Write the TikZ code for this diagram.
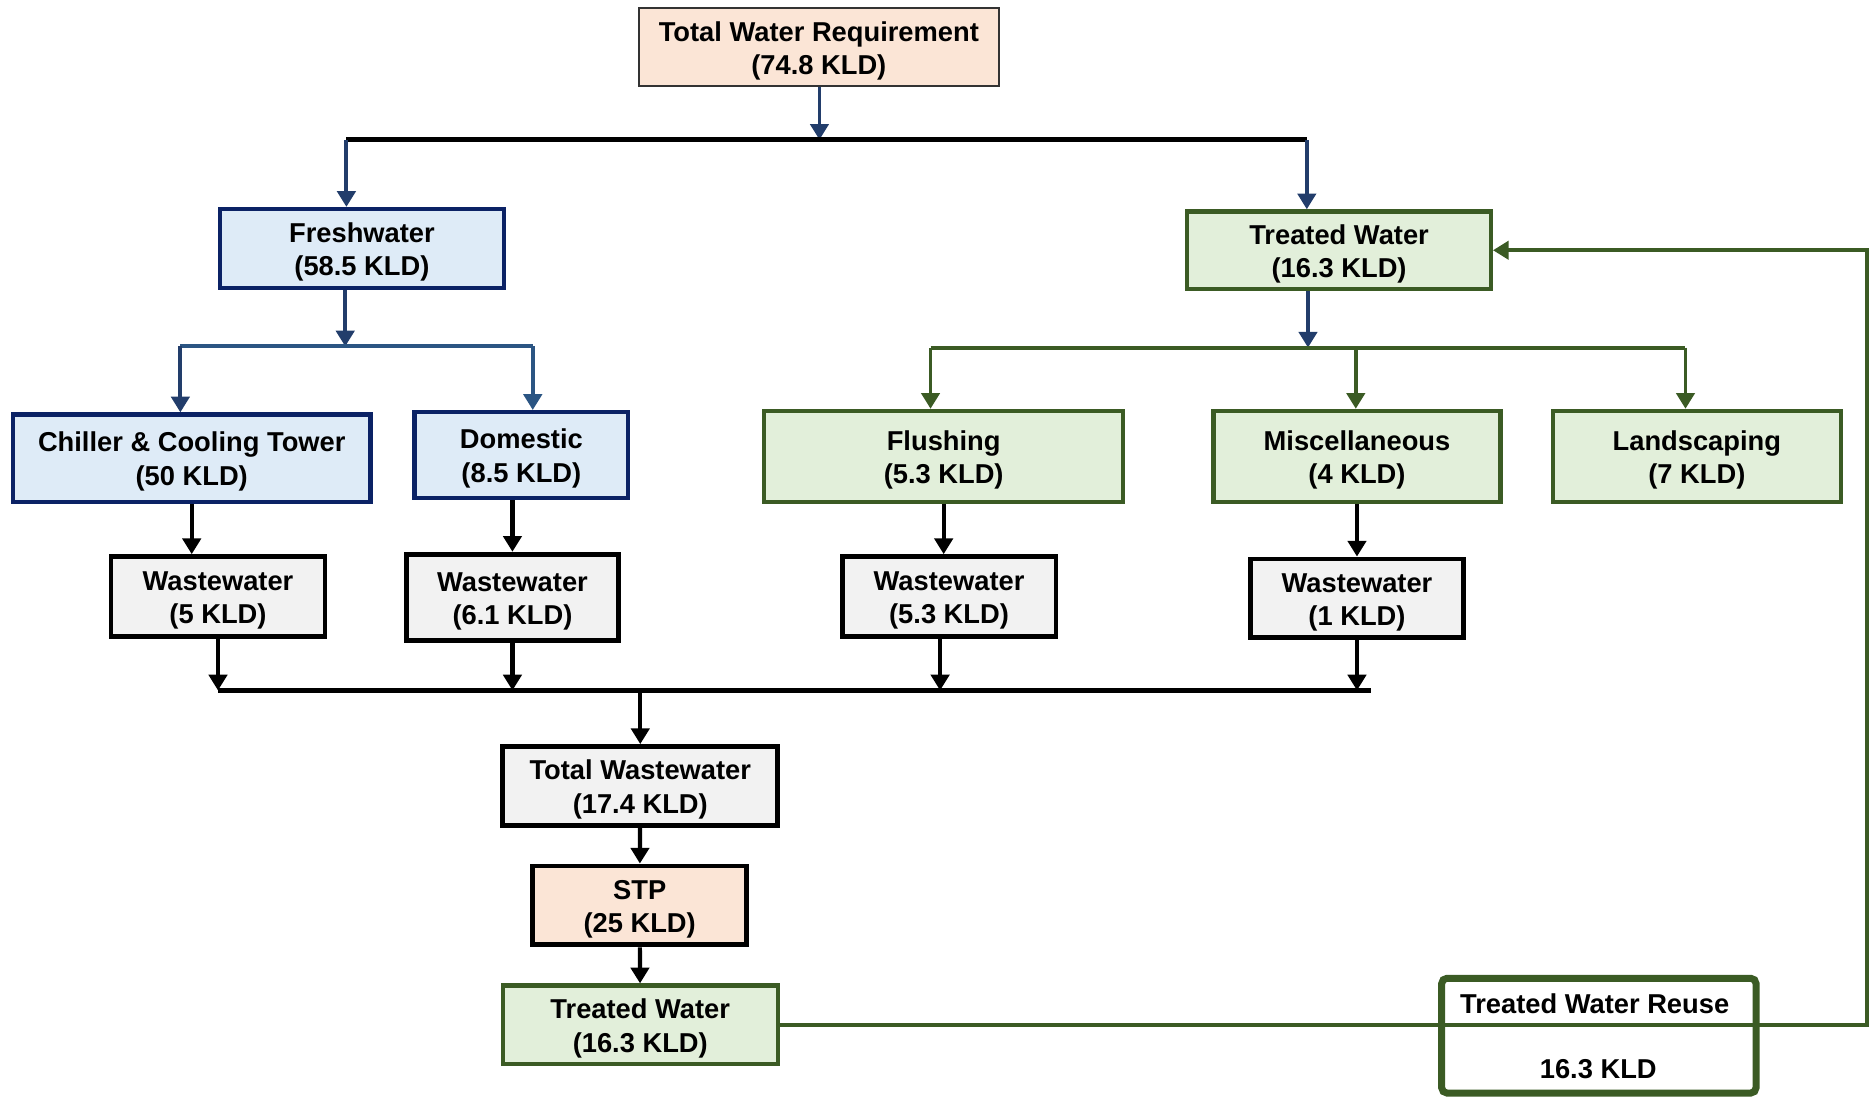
\documentclass[tikz,border=0pt]{standalone}
\usepackage{fontspec}
\setmainfont{Liberation Sans}
\usetikzlibrary{arrows.meta,positioning}

\definecolor{peach}{HTML}{FBE5D6}
\definecolor{paleblue}{HTML}{DEEBF7}
\definecolor{navy}{HTML}{0B2265}
\definecolor{flowblue}{HTML}{223D6B}
\definecolor{branchblue}{HTML}{2B5583}
\definecolor{palegreen}{HTML}{E2EFDA}
\definecolor{darkgreen}{HTML}{3B5B24}
\definecolor{palegray}{HTML}{F2F2F2}

\tikzset{
  box/.style={draw,align=center,inner sep=0pt,text height=17.1pt,font=\bfseries\fontsize{7.8}{9.5}\selectfont},
  reqbox/.style={box,fill=peach,draw=black!80,line width=0.5pt},
  freshbox/.style={box,fill=paleblue,draw=navy,line width=1.2pt},
  treatbox/.style={box,fill=palegreen,draw=darkgreen,line width=1.2pt},
  wastebox/.style={box,fill=palegray,draw=black,line width=1.4pt},
  stpbox/.style={box,fill=peach,draw=black,line width=1.4pt},
  reusetext/.style={inner sep=0pt,font=\bfseries\fontsize{7.8}{9.5}\selectfont},
  blueflow/.style={->,draw=flowblue,line width=1.1pt},
  greenflow/.style={->,draw=darkgreen,line width=1.1pt},
  blackflow/.style={->,draw=black,line width=1.2pt}
}

\begin{document}
\begin{tikzpicture}[x=0.012cm,y=-0.012cm,>={Triangle[length=4.5pt,width=5.2pt]}]
            \useasboundingbox (0,0) rectangle (1568,918);

            % demand side
            \node[reqbox,minimum width=3.612cm,minimum height=0.78cm] (req) at (685.5,39.5) {Total Water Requirement\\(74.8 KLD)};
            \node[freshbox,minimum width=2.856cm,minimum height=0.792cm] (fresh) at (303,208) {Freshwater\\(58.5 KLD)};
            \node[treatbox,minimum width=3.048cm,minimum height=0.78cm] (treat) at (1121,209.5) {Treated Water\\(16.3 KLD)};
            \node[freshbox,minimum width=3.588cm,minimum height=0.876cm] (chiller) at (160.5,383.5) {Chiller \& Cooling Tower\\(50 KLD)};
            \node[freshbox,minimum width=2.148cm,minimum height=0.864cm] (domestic) at (436.5,381) {Domestic\\(8.5 KLD)};
            \node[treatbox,minimum width=3.6cm,minimum height=0.912cm] (flushing) at (790,382) {Flushing\\(5.3 KLD)};
            \node[treatbox,minimum width=2.88cm,minimum height=0.912cm] (misc) at (1136,382) {Miscellaneous\\(4 KLD)};
            \node[treatbox,minimum width=2.892cm,minimum height=0.912cm] (landscaping) at (1420.5,382) {Landscaping\\(7 KLD)};

            % wastewater side
            \node[wastebox,minimum width=2.148cm,minimum height=0.804cm] (wwchiller) at (182.5,499.5) {Wastewater\\(5 KLD)};
            \node[wastebox,minimum width=2.136cm,minimum height=0.864cm] (wwdomestic) at (429,500) {Wastewater\\(6.1 KLD)};
            \node[wastebox,minimum width=2.148cm,minimum height=0.804cm] (wwflushing) at (794.5,499.5) {Wastewater\\(5.3 KLD)};
            \node[wastebox,minimum width=2.136cm,minimum height=0.792cm] (wwmisc) at (1136,501) {Wastewater\\(1 KLD)};
            \node[wastebox,minimum width=2.76cm,minimum height=0.792cm] (totalww) at (536,658) {Total Wastewater\\(17.4 KLD)};
            \node[stpbox,minimum width=2.148cm,minimum height=0.792cm] (stp) at (535.5,758) {STP\\(25 KLD)};
            \node[treatbox,minimum width=2.76cm,minimum height=0.792cm] (treatout) at (536,858) {Treated Water\\(16.3 KLD)};

            \node[draw=darkgreen,fill=white,line width=2pt,rounded corners=1.5pt,minimum width=3.156cm,minimum height=1.152cm] (reuse) at (1338.5,867) {};
            \node[reusetext] (reusetitle) at (1335,840) {Treated Water Reuse};
            \node[reusetext] (reuseval) at (1338,895) {16.3 KLD};

            % top split
            \coordinate (jtop) at (686,117);
            \coordinate (jfresh) at (290,117);
            \coordinate (jtreat) at (1094,117);
            \draw[blueflow] (req.south -| jtop) -- (jtop);
            \draw[line width=1.3pt] (jfresh) -- (jtreat);
            \draw[blueflow] (jfresh) -- (jfresh |- fresh.north);
            \draw[blueflow] (jtreat) -- (jtreat |- treat.north);

            % freshwater split
            \coordinate (jfresh2) at (289,290);
            \coordinate (jchiller) at (151,290);
            \coordinate (jdomestic) at (446,290);
            \draw[blueflow] (jfresh2 |- fresh.south) -- (jfresh2);
            \draw[branchblue,line width=1.1pt] (jchiller) -- (jdomestic);
            \draw[blueflow] (jchiller) -- (jchiller |- chiller.north);
            \draw[blueflow,draw=branchblue] (jdomestic) -- (jdomestic |- domestic.north);

            % treated water split
            \coordinate (jtreat2) at (1095,291);
            \coordinate (jflushing) at (779,291);
            \coordinate (jmisc) at (1135,291);
            \coordinate (jland) at (1411,291);
            \draw[blueflow] (jtreat2 |- treat.south) -- (jtreat2);
            \draw[darkgreen,line width=1.1pt] (jflushing) -- (jland);
            \draw[greenflow] (jflushing) -- (jflushing |- flushing.north);
            \draw[greenflow] (jmisc) -- (jmisc |- misc.north);
            \draw[greenflow] (jland) -- (jland |- landscaping.north);

            % uses to wastewater
            \draw[blackflow] (chiller.south) -- (chiller.south |- wwchiller.north);
            \draw[blackflow] (wwdomestic.north |- domestic.south) -- (wwdomestic.north);
            \draw[blackflow] (flushing.south) -- (flushing.south |- wwflushing.north);
            \draw[blackflow] (misc) -- (wwmisc);

            % collection
            \coordinate (jwaste) at (536,578);
            \coordinate (jwflush) at (787,578);
            \coordinate (jwend) at (1148,578);
            \draw[line width=1.3pt] (wwchiller.south |- jwaste) -- (jwend);
            \draw[blackflow] (wwchiller.south) -- (wwchiller.south |- jwaste);
            \draw[blackflow] (wwdomestic.south) -- (wwdomestic.south |- jwaste);
            \draw[blackflow] (jwflush |- wwflushing.south) -- (jwflush);
            \draw[blackflow] (wwmisc.south) -- (wwmisc.south |- jwaste);
            \draw[blackflow] (jwaste) -- (totalww.north);
            \draw[blackflow] (totalww) -- (stp);
            \draw[blackflow] (stp) -- (treatout);

            % reuse loop
            \coordinate (jloop) at (1563,858);
            \draw[greenflow] (treatout.east) -- (jloop) |- (treat.east);
\end{tikzpicture}
\end{document}
